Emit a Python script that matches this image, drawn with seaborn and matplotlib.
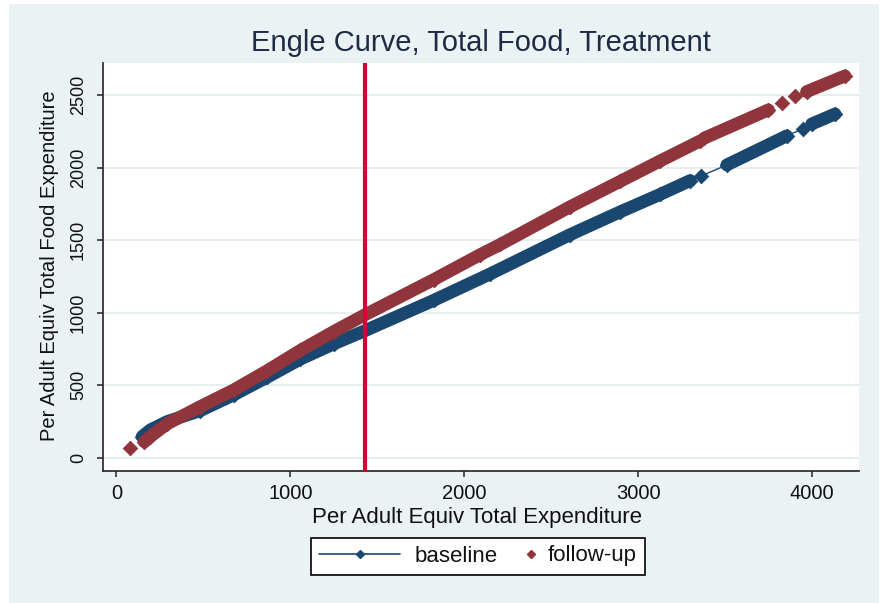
import numpy as np
import pandas as pd
import matplotlib
matplotlib.use("Agg")
import matplotlib.pyplot as plt
import seaborn as sns
from matplotlib.lines import Line2D
from matplotlib.legend_handler import HandlerLine2D
from matplotlib.patches import Rectangle

# ---------------- data ----------------
title = "Engle Curve, Total Food, Treatment"
xlabel = "Per Adult Equiv Total Expenditure"
ylabel = "Per Adult Equiv Total Food Expenditure"
series_names = ["baseline", "follow-up"]
xticks = [0, 1000, 2000, 3000, 4000]
yticks = [0, 500, 1000, 1500, 2000, 2500]
ref_x = 1432

base_x = [148, 195, 291, 483, 674, 866, 1057, 1249, 1425, 1824, 2150, 2609, 2897, 3126, 3299,
          3362,
          3510, 3854,
          3946,
          3998, 4132]
base_y = [147, 193, 250, 326, 434, 555, 680, 785, 874, 1085, 1268, 1538, 1695, 1815, 1910,
          1942,
          2018, 2218,
          2266,
          2300, 2369]
base_seg = [0] * 15 + [1] + [2, 2] + [3] + [4, 4]

fu_x = [80,
        161, 195, 291, 483, 674, 866, 1057, 1249, 1425, 1824, 2092, 2207, 2609, 2897, 3126, 3356,
        3379, 3749,
        3829,
        3902,
        3969, 4189]
fu_y = [71,
        112, 147, 234, 354, 468, 600, 740, 870, 983, 1228, 1400, 1470, 1730, 1905, 2045, 2183,
        2202, 2397,
        2447,
        2493,
        2523, 2631]
fu_seg = [0] + [1] * 16 + [2, 2] + [3] + [4] + [5, 5]

# ---------------- style ----------------
BLUE = "#1A476F"
RED = "#90353B"
VLINE = "#CC0A35"
BG = "#EAF2F3"
GRID = "#E6EEF0"
TXT = "#111111"
TITLE_C = "#1F2A44"

sns.set_theme(style="white")
plt.rcParams["font.family"] = ["Liberation Sans", "DejaVu Sans"]

fig = plt.figure(figsize=(8.83, 6.03), dpi=100)
fig.patch.set_facecolor("white")
fig.add_artist(Rectangle((9 / 883, 0), (879 - 9) / 883, (603 - 4) / 603,
                         transform=fig.transFigure, facecolor=BG,
                         edgecolor="none", zorder=-10))

ax = fig.add_axes([103 / 883, 1 - 471 / 603, (859 - 103) / 883, (471 - 63) / 603])
ax.set_facecolor("white")

base = pd.DataFrame({"x": base_x, "y": base_y, "seg": base_seg})
fu = pd.DataFrame({"x": fu_x, "y": fu_y, "seg": fu_seg})

BAND_LW = 9.2
MS = 55

# baseline: thin connecting line, thick band, diamond markers
sns.lineplot(data=base, x="x", y="y", estimator=None, sort=False, color=BLUE,
             lw=1.0, ax=ax, legend=False, zorder=3)
sns.lineplot(data=base, x="x", y="y", units="seg", estimator=None, sort=False,
             color=BLUE, lw=BAND_LW, solid_capstyle="round", ax=ax, legend=False,
             zorder=3)
sns.scatterplot(data=base, x="x", y="y", marker="D", s=MS, color=BLUE,
                edgecolor=BLUE, linewidth=0.6, ax=ax, legend=False, zorder=3)

# follow-up: band + diamond markers (no connecting line)
sns.lineplot(data=fu, x="x", y="y", units="seg", estimator=None, sort=False,
             color=RED, lw=BAND_LW, solid_capstyle="round", ax=ax, legend=False,
             zorder=4)
sns.scatterplot(data=fu, x="x", y="y", marker="D", s=MS, color=RED,
                edgecolor=RED, linewidth=0.6, ax=ax, legend=False, zorder=4)

ax.axvline(ref_x, color=VLINE, lw=3.0, zorder=5)

ax.set_xlim(-77, 4270)
ax.set_ylim(-90, 2720)
ax.set_xticks(xticks)
ax.set_yticks(yticks)
ax.set_xticklabels([str(v) for v in xticks])
ax.set_yticklabels([str(v) for v in yticks])

for y in yticks:
    ax.axhline(y, color=GRID, lw=1.4, zorder=1)

for s in ["top", "right"]:
    ax.spines[s].set_visible(False)
for s in ["left", "bottom"]:
    ax.spines[s].set_color("#222222")
    ax.spines[s].set_linewidth(1.2)

ax.tick_params(axis="both", direction="out", length=4.5, width=1.1, color="#222222",
               labelcolor=TXT, left=True, bottom=True)
ax.tick_params(axis="x", labelsize=14.5, pad=5)
ax.tick_params(axis="y", labelsize=13, pad=7)
plt.setp(ax.get_yticklabels(), rotation=90, va="center", ha="right")

ax.set_xlabel(xlabel, fontsize=16, color=TXT)
ax.set_ylabel(ylabel, fontsize=14.5, color=TXT)
ax.xaxis.set_label_coords((477 - 103) / 756, (471 - 507) / 408)
ax.yaxis.set_label_coords((59 - 103) / 756, (471 - 266) / 408)

fig.text((103 + 859) / 2 / 883, 1 - 43 / 603, title, ha="center", va="center",
         fontsize=21, color=TITLE_C)

# legend
h_base = Line2D([], [], color=BLUE, lw=1.2, marker="D", markersize=5.0,
                markerfacecolor=BLUE, markeredgecolor=BLUE)
h_fu = Line2D([], [], color=RED, lw=0, linestyle="none", marker="D", markersize=5.0,
              markerfacecolor=RED, markeredgecolor=RED)
leg = fig.legend([h_base, h_fu], series_names, loc="center",
                 bbox_to_anchor=(478 / 883, 1 - 556 / 603), ncol=2, fontsize=16,
                 handlelength=3.65, handletextpad=0.63, columnspacing=-2.03,
                 borderpad=0.36, frameon=True, fancybox=False, framealpha=1,
                 edgecolor="black", markerscale=0.85,
                 handler_map={h_fu: HandlerLine2D(xpad=3.4)})
leg.get_frame().set_linewidth(1.2)
for t in leg.get_texts():
    t.set_color(TXT)

fig.savefig("out.png", dpi=100, facecolor=fig.get_facecolor())
